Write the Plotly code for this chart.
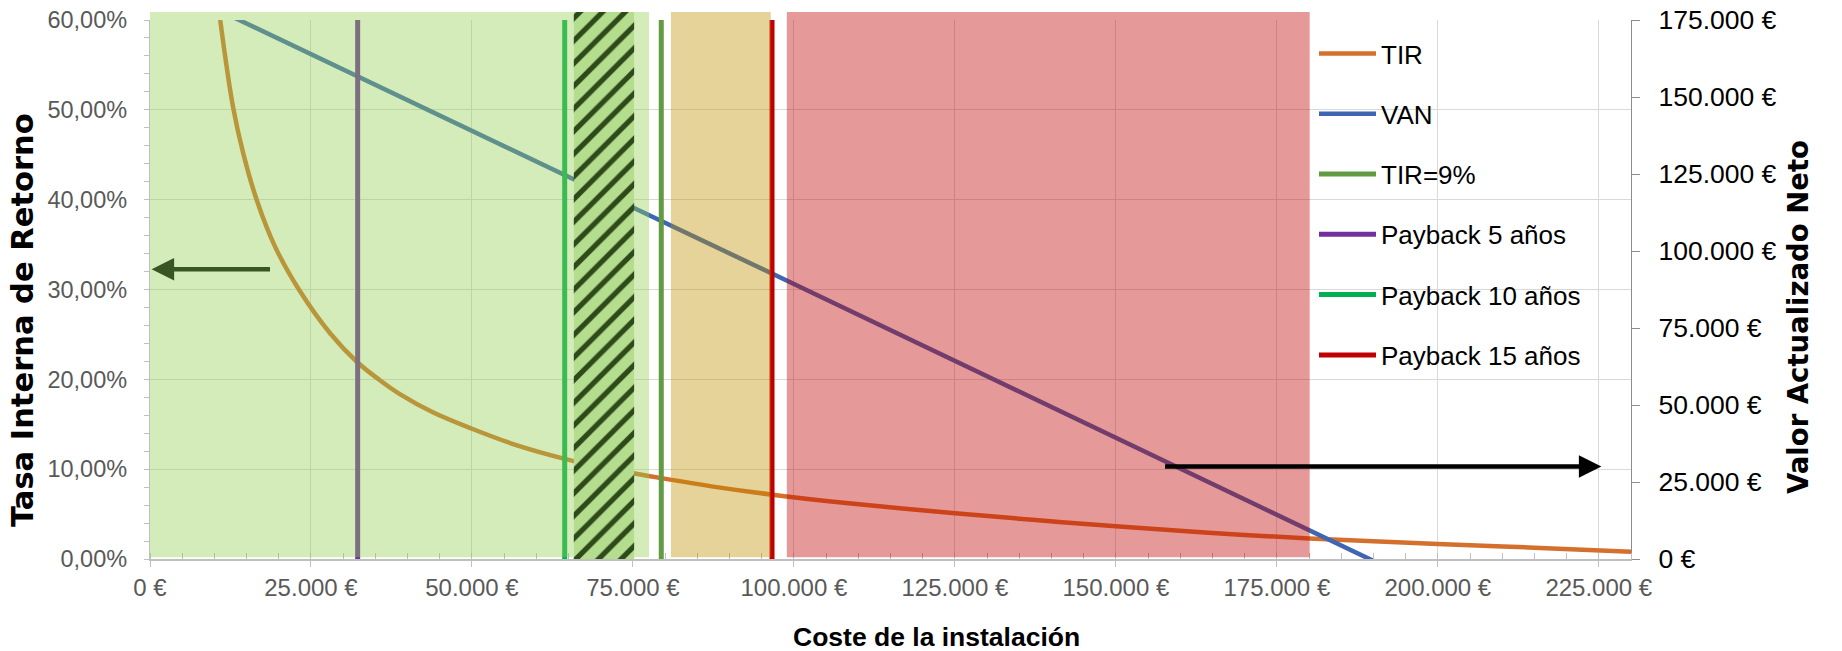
import plotly.graph_objects as go

# ---------------- data ----------------
cost_tir = [10900, 12900, 14500, 16600, 19400, 23300, 28000, 32200, 35700, 38800,
            44000, 50000, 57000, 64400, 70000, 75300, 79400, 88000, 96300, 108500,
            125000, 137500, 150000, 165000, 180000, 200000, 215000, 230000]
tir = [0.600, 0.503, 0.451, 0.399, 0.348, 0.298, 0.251, 0.219, 0.199, 0.1835,
       0.163, 0.145, 0.1265, 0.1115, 0.1025, 0.0952, 0.0900, 0.0800, 0.0719, 0.0620,
       0.0510, 0.0434, 0.0364, 0.0290, 0.0229, 0.0168, 0.0126, 0.0080]

cost_van = [0, 25000, 50000, 75000, 100000, 125000, 150000, 175000, 200000, 230000]
van = [188800, 163800, 138900, 114100, 89300, 64400, 39400, 14400, -10600, -40600]

ref_names = ["TIR=9%", "Payback 5 años", "Payback 10 años", "Payback 15 años"]
ref_costs = [79400, 32250, 64400, 96600]
ref_colors = ["#629B42", "#7030A0", "#00B050", "#C00000"]

zone_green = [0, 77500]
zone_hatch = [65800, 75200]
zone_tan = [80900, 96400]
zone_red = [98900, 180100]

arrow_tir = {"from": 18870, "to": 250, "y": 0.3225}
arrow_van = {"from": 157400, "to": 225400, "y": 30000}

x_range = [0, 230000]
tir_range = [0, 0.6]
van_range = [0, 175000]

# ---------------- layout geometry ----------------
W, H = 1842, 651
ML, MR, MT, MB = 150, 211, 12, 92
PW = W - ML - MR
PH = H - MT - MB
DOM_TOP = (PH - 8) / PH
FONT = "Liberation Sans, Arial, sans-serif"
WIDE = "DejaVu Sans, Verdana, sans-serif"


def px_x(p):
    return (p - ML) / PW


def px_y(p):
    return (H - MB - p) / PH


fig = go.Figure()

fig.add_trace(go.Scatter(x=cost_tir, y=tir, name="TIR", mode="lines",
                         line=dict(color="#D4702C", width=4.5, shape="spline", smoothing=1.0),
                         xaxis="x", yaxis="y", legendgroup="g1", hoverinfo="skip"))
fig.add_trace(go.Scatter(x=cost_van, y=van, name="VAN", mode="lines",
                         line=dict(color="#3E66B3", width=4.5),
                         xaxis="x", yaxis="y2", legendgroup="g2", hoverinfo="skip"))
for i, (nm, c, col) in enumerate(zip(ref_names, ref_costs, ref_colors)):
    fig.add_trace(go.Scatter(x=[c, c], y=van_range, name=nm, mode="lines",
                             line=dict(color=col, width=5),
                             xaxis="x", yaxis="y2", legendgroup=f"g{i+3}", hoverinfo="skip"))

# hatched zone (drawn on a top subplot so that it hides the curves)
fig.add_trace(go.Bar(x=[(zone_hatch[0] + zone_hatch[1]) / 2], y=[1], base=0,
                     width=[zone_hatch[1] - zone_hatch[0]],
                     xaxis="x2", yaxis="y3", showlegend=False, hoverinfo="skip",
                     marker=dict(color="#B5DD8E", line_width=0,
                                 pattern=dict(shape="/", fgcolor="#2E4A1B", bgcolor="#B5DD8E",
                                              size=16, solidity=0.33, fillmode="replace"))))


def vrect(x0, x1, color):
    return dict(type="rect", xref="x", yref="paper", x0=x0, x1=x1, y0=0.003, y1=1,
                fillcolor=color, line_width=0, layer="above")


shapes = [
    vrect(zone_green[0], zone_hatch[0], "rgba(146,208,80,0.4)"),
    vrect(zone_hatch[1], zone_green[1], "rgba(146,208,80,0.4)"),
    vrect(zone_tan[0], zone_tan[1], "rgba(191,144,0,0.4)"),
    vrect(zone_red[0], zone_red[1], "rgba(192,0,0,0.4)"),
]

annotations = [
    dict(x=arrow_tir["to"], y=arrow_tir["y"], ax=arrow_tir["from"], ay=arrow_tir["y"],
         xref="x", yref="y", axref="x", ayref="y", text="", showarrow=True,
         arrowhead=2, arrowsize=1.0, arrowwidth=4.5, arrowcolor="#375623", standoff=0),
    dict(x=arrow_van["to"], y=arrow_van["y"], ax=arrow_van["from"], ay=arrow_van["y"],
         xref="x", yref="y2", axref="x", ayref="y2", text="", showarrow=True,
         arrowhead=2, arrowsize=1.0, arrowwidth=4.5, arrowcolor="#000000", standoff=0),
    dict(text="<b>Coste de la instalación</b>", xref="paper", yref="paper",
         x=px_x(936), y=px_y(637), showarrow=False,
         xanchor="center", yanchor="middle", font=dict(family=FONT, size=26.5, color="black")),
    dict(text="<b>Tasa Interna de Retorno</b>", xref="paper", yref="paper",
         x=px_x(22), y=px_y(320), showarrow=False, textangle=-90,
         xanchor="center", yanchor="middle", font=dict(family=WIDE, size=30.5, color="black")),
    dict(text="<b>Valor Actualizado Neto</b>", xref="paper", yref="paper",
         x=px_x(1798), y=px_y(317), showarrow=False, textangle=-90,
         xanchor="center", yanchor="middle", font=dict(family=WIDE, size=27.5, color="black")),
]

grid = "#D9D9D9"
tickgray = "#BFBFBF"

fig.update_layout(
    width=W, height=H, autosize=False,
    margin=dict(l=ML, r=MR, t=MT, b=MB, pad=0, autoexpand=False),
    paper_bgcolor="white", plot_bgcolor="rgba(0,0,0,0)",
    separators=",.",
    font=dict(family=FONT),
    showlegend=True,
    legend=dict(x=px_x(1314), y=px_y(30), xanchor="left", yanchor="top",
                bgcolor="rgba(0,0,0,0)", borderwidth=0, itemwidth=57, tracegroupgap=23.5,
                font=dict(family=FONT, size=26, color="black")),
    xaxis=dict(range=x_range, tick0=0, dtick=25000, tickformat=",.0f", ticksuffix=" €",
               ticks="outside", ticklen=6, tickwidth=1.3, tickcolor=tickgray,
               showline=True, linecolor=tickgray, linewidth=1.5,
               showgrid=True, gridcolor=grid, gridwidth=1.2, zeroline=False,
               tickfont=dict(family=FONT, size=24, color="#595959"),
               minor=dict(dtick=5000, ticks="inside", ticklen=6, tickwidth=1.3,
                          tickcolor=tickgray, showgrid=False),
               anchor="y", automargin=False),
    xaxis3=dict(overlaying="x", anchor="y", range=x_range, tick0=0, dtick=25000,
                ticks="inside", ticklen=6, tickwidth=1.3, tickcolor=tickgray, automargin=False,
                showticklabels=False, showgrid=False, showline=False, zeroline=False),
    yaxis=dict(domain=[0, DOM_TOP], range=tir_range, tick0=0, dtick=0.1, tickformat=".2%",
               ticks="outside", ticklen=5, tickwidth=1.3, tickcolor=tickgray,
               showline=True, linecolor=tickgray, linewidth=1.3,
               showgrid=True, gridcolor=grid, gridwidth=1.2, zeroline=False,
               tickfont=dict(family=FONT, size=23.5, color="#595959"),
               ticklabelstandoff=12,
               minor=dict(dtick=0.02, ticks="outside", ticklen=5, tickwidth=1.3,
                          tickcolor=tickgray, showgrid=False),
               anchor="x", automargin=False),
    yaxis4=dict(overlaying="y", anchor="x", side="left", range=tir_range, tick0=0, dtick=0.1,
                ticks="inside", ticklen=5, tickwidth=1.3, tickcolor=tickgray, automargin=False,
                minor=dict(dtick=0.02, ticks="inside", ticklen=5, tickwidth=1.3,
                           tickcolor=tickgray, showgrid=False),
                showticklabels=False, showgrid=False, showline=False, zeroline=False),
    yaxis2=dict(overlaying="y", side="right", anchor="x", range=van_range, tick0=0, dtick=25000,
                tickformat=",.0f", ticksuffix=" €", ticks="outside", ticklen=8, tickwidth=1.3,
                tickcolor="#8C8C8C", showline=True, linecolor="#8C8C8C", linewidth=1.3,
                showgrid=False, zeroline=False, automargin=False, ticklabelstandoff=13,
                tickfont=dict(family=FONT, size=26.5, color="black")),
    xaxis2=dict(range=x_range, anchor="y3", visible=False, automargin=False),
    yaxis3=dict(domain=[0, 1], range=[0, 1], anchor="x2", visible=False, automargin=False),
    shapes=shapes,
    annotations=annotations,
)

fig.write_html("out.html", config={"displayModeBar": False},
               post_script="document.body.style.margin='0px';")
